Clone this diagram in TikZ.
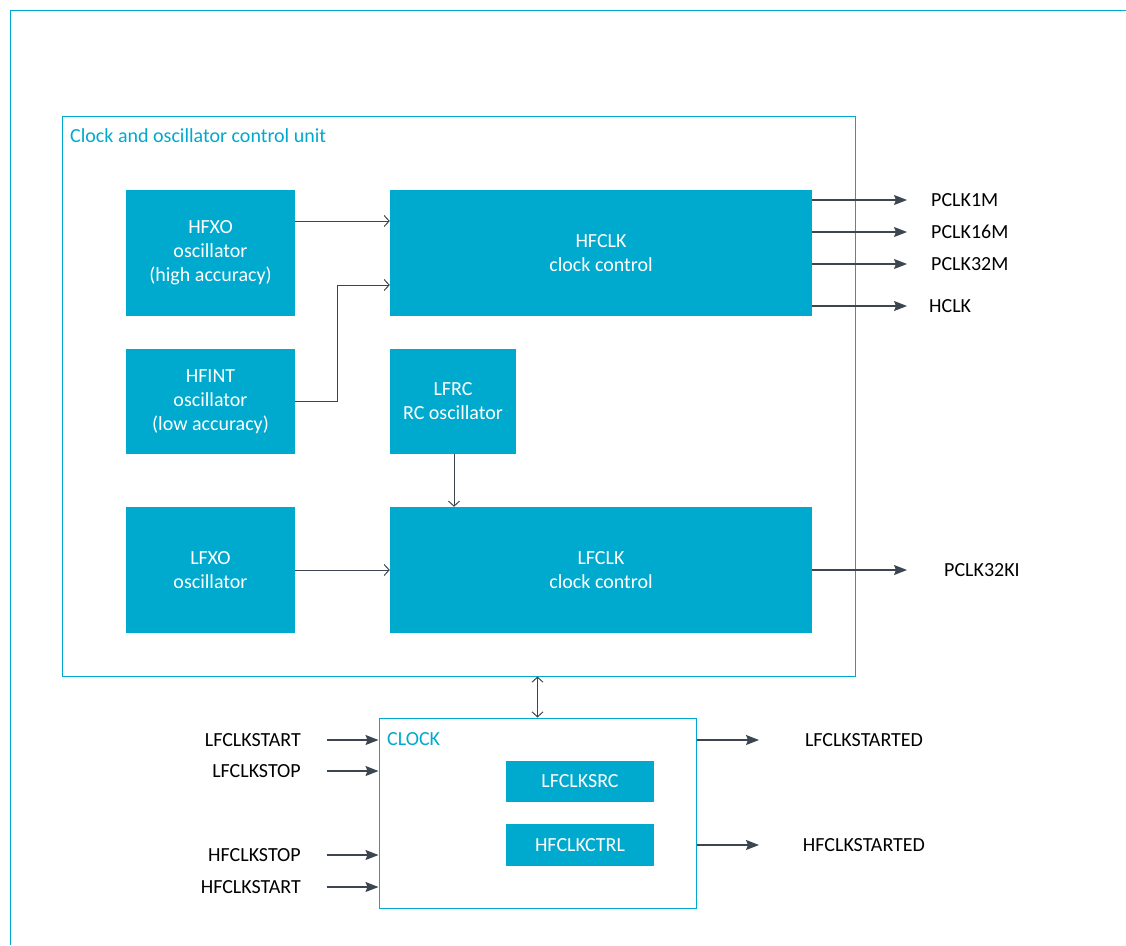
\documentclass[tikz,border=0pt]{standalone}
\usepackage{fontspec}
\setmainfont{Carlito}
\usetikzlibrary{arrows.meta}

\definecolor{nordic}{RGB}{0,169,206}
\definecolor{wire}{RGB}{60,70,80}

\tikzset{
  blk/.style={fill=nordic, text=white, align=center, inner sep=0pt},
  frm/.style={draw=nordic, line width=1pt, inner sep=0pt},
  link/.style={draw=wire, line width=1pt, -{Straight Barb[length=5pt,width=11pt]}},
  sig/.style={draw=wire, line width=1.2pt, -{Stealth[length=13pt,width=10pt,inset=2pt]}},
  lbl/.style={text=black, inner sep=0pt},
  ttl/.style={text=nordic, inner sep=0pt, anchor=base west}
}

\begin{document}
\begin{tikzpicture}[x=1pt,y=-1pt,font=\fontsize{20}{24}\selectfont]
\useasboundingbox (0,0) rectangle (1126,945);

% outer frame
\draw[nordic,line width=1pt] (10,945) -- (10,10) -- (1126,10);

% clock and oscillator control unit
\node[frm, minimum width=793pt, minimum height=560pt] (unit) at (458.5,396) {};
\node[ttl] (unittitle) at (70,142) {Clock and oscillator control unit};

\node[blk, minimum width=169pt, minimum height=126pt] (hfxo) at (210.5,253) {HFXO\\oscillator\\(high accuracy)};
\node[blk, minimum width=169pt, minimum height=105pt] (hfint) at (210.5,401.5) {HFINT\\oscillator\\(low accuracy)};
\node[blk, minimum width=169pt, minimum height=126pt] (lfxo) at (210.5,570) {LFXO\\oscillator};
\node[blk, minimum width=422pt, minimum height=126pt] (hfclk) at (601,253) {HFCLK\\clock control};
\node[blk, minimum width=126pt, minimum height=105pt] (lfrc) at (453,401.5) {LFRC\\RC oscillator};
\node[blk, minimum width=422pt, minimum height=126pt] (lfclk) at (601,570) {LFCLK\\clock control};

\draw[link] (hfxo.east |- 0,221) -- (hfclk.west |- 0,221);
\draw[link] (hfint.east) -- (337,401.5) |- (hfclk.west |- 0,285);
\draw[link] (lfrc.south -| 454,0) -- (lfclk.north -| 454,0);
\draw[link] (lfxo.east) -- (lfclk.west);

% clock outputs
\foreach \yy/\name in {200/PCLK1M, 232/PCLK16M, 264/PCLK32M}{
  \node[lbl, anchor=west] (\name) at (931,\yy) {\name};
  \draw[sig] (hfclk.east |- \name.west) -- ([xshift=-24pt]\name.west);
}
\node[lbl, anchor=west] (HCLK) at (929,306) {HCLK};
\draw[sig] (hfclk.east |- HCLK.west) -- ([xshift=-22pt]HCLK.west);
\node[lbl, anchor=west] (PCLK32KI) at (944,570) {PCLK32KI};
\draw[sig] (lfclk.east) -- ([xshift=-37pt]PCLK32KI.west);

% CLOCK peripheral
\node[frm, minimum width=317pt, minimum height=190pt] (clock) at (537.5,813) {};
\node[ttl] (clocktitle) at (387,745) {CLOCK};
\node[blk, minimum width=148pt, minimum height=41pt] (lfclksrc) at (580,781.5) {LFCLKSRC};
\node[blk, minimum width=148pt, minimum height=42pt] (hfclkctrl) at (580,845) {HFCLKCTRL};

\draw[draw=wire, line width=1pt, {Straight Barb[length=5pt,width=11pt]}-{Straight Barb[length=5pt,width=11pt]}]
  (unit.south -| clock.north) -- (clock.north);

% tasks
\foreach \yy/\name in {740/LFCLKSTART, 771/LFCLKSTOP, 855/HFCLKSTOP, 887/HFCLKSTART}{
  \node[lbl, anchor=east] (\name) at (301,\yy) {\name};
  \draw[sig] ([xshift=26pt]\name.east) -- (clock.west |- \name.east);
}

% events
\foreach \yy/\name in {740/LFCLKSTARTED, 845/HFCLKSTARTED}{
  \node[lbl] (\name) at (864,\yy) {\name};
  \draw[sig] (clock.east |- \name) -- (759,\yy);
}
\end{tikzpicture}
\end{document}
